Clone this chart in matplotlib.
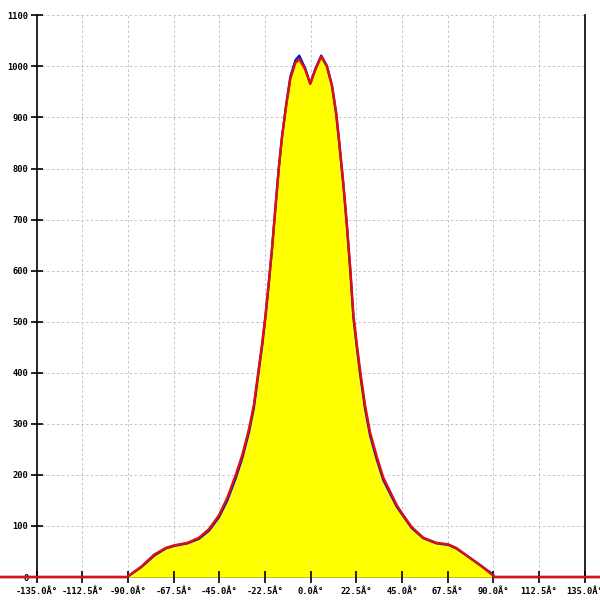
import numpy as np
import matplotlib
matplotlib.use("Agg")
import matplotlib.pyplot as plt

# values
angles = [-155, -90.5, -83.6, -77.1, -71.4, -67.3, -60.7, -55.0, -50.1, -45.2, -41.1,
          -37.0, -33.7, -30.4, -28.0, -25.9, -23.9, -22.3, -20.6, -19.0, -17.3, -15.7,
          -14.1, -12.1, -10.0, -7.5, -5.6, -2.6, -0.2, 2.3, 5.2, 8.0, 10.5, 12.6, 14.2,
          16.2, 17.8, 19.5, 21.1, 22.7, 24.4, 26.8, 29.3, 32.6, 35.8, 39.1, 42.4, 45.7,
          49.8, 55.5, 62.0, 67.8, 71.8, 77.6, 83.3, 89.9, 90.5, 155]
red = [0, 0, 20, 44, 57, 62, 67, 77, 94, 121, 155,
       199, 239, 290, 337, 399, 458, 512, 579, 646, 727, 801,
       862, 922, 976, 1007, 1014, 993, 966, 993, 1019, 1000, 963, 909, 848,
       768, 694, 606, 512, 458, 404, 337, 283, 236, 195, 168, 141, 121,
       98, 77, 67, 64, 57, 40, 24, 3, 0, 0]
blue = [0, 0, 19, 42, 56, 61, 66, 75, 91, 117, 150,
        193, 233, 284, 331, 394, 453, 508, 576, 644, 726, 801,
        863, 924, 980, 1012, 1021, 995, 966, 995, 1021, 1001, 962, 906, 845,
        764, 690, 601, 507, 452, 397, 330, 277, 230, 190, 164, 138, 119,
        96, 76, 66, 63, 56, 40, 24, 5, 0, 0]

x_ticks = np.arange(-135, 135.1, 22.5)
y_ticks = np.arange(0, 1101, 100)

fig = plt.figure(figsize=(6, 6), dpi=100)
ax = fig.add_axes([0, 0, 1, 1])
ax.set_xlim(-153.1, 142.6)
ax.set_ylim(-45, 1130)

# grid
ax.hlines(y_ticks[1:], -135, 135, colors="#c4c4c4", linestyles=(0, (2.5, 2.5)), linewidth=0.7, zorder=0)
ax.vlines(x_ticks[1:-1], 0, 1100, colors="#c4c4c4", linestyles=(0, (2.5, 2.5)), linewidth=0.7, zorder=0)

ax.fill_between(angles, red, color="#ffff00", zorder=1)
ax.plot(angles, blue, color="#1010d0", linewidth=1.7, zorder=2)
ax.plot(angles, red, color="#e01010", linewidth=1.7, zorder=3)

ax.spines["top"].set_visible(False)
ax.spines["left"].set_position(("data", -135))
ax.spines["left"].set_bounds(0, 1100)
ax.spines["right"].set_position(("data", 135))
ax.spines["right"].set_bounds(0, 1100)
ax.spines["bottom"].set_position(("data", 0))
ax.spines["bottom"].set_bounds(-135, 135)
for s in ["left", "right", "bottom"]:
    ax.spines[s].set_linewidth(1.2)
    ax.spines[s].set_zorder(0.5)

ax.set_xticks(x_ticks)
ax.set_xticklabels([f"{v:.1f}Â°" for v in x_ticks])
ax.set_yticks(y_ticks)
ax.set_yticklabels([str(v) for v in y_ticks])
ax.tick_params(axis="x", direction="inout", length=8, width=1.2, pad=3, labelsize=6.3)
ax.tick_params(axis="y", direction="inout", length=8, width=1.2, pad=2, labelsize=6.3)
ax.yaxis.set_ticks_position("left")
for lab in ax.get_xticklabels() + ax.get_yticklabels():
    lab.set_family("DejaVu Sans Mono")
    lab.set_fontweight("bold")

fig.savefig("out.png", dpi=100)
